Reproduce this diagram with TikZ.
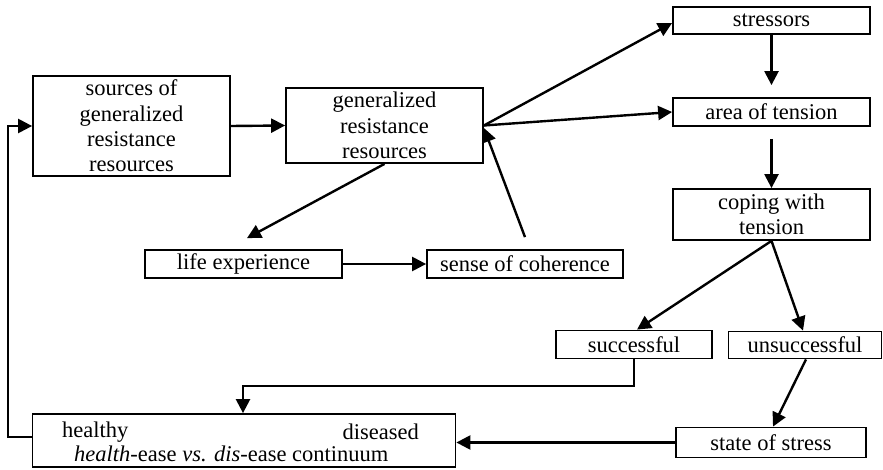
\documentclass[tikz,border=0pt]{standalone}
\usepackage{fontspec}
\setmainfont{Liberation Serif}
\usetikzlibrary{arrows.meta}
\begin{document}
\begin{tikzpicture}[x=1pt,y=-1pt,
  box/.style={draw, line width=1.8pt, inner sep=0pt, align=center,
              font=\fontsize{22.5}{25.3}\selectfont},
  lbl/.style={inner sep=0pt, font=\fontsize{22.5}{25.3}\selectfont},
  arr/.style={line width=2.4pt, -{Triangle[length=14pt,width=14pt]}}]
\useasboundingbox (0,0) rectangle (883,470);

% boxes
\node[box, minimum width=197pt, minimum height=100pt] (src) at (131.5,126)
  {sources of\\generalized\\resistance\\resources};
\node[box, minimum width=197pt, minimum height=75pt] (grr) at (384.5,125.5)
  {generalized\\resistance\\resources};
\node[box, minimum width=197pt, minimum height=27pt] (str) at (771.5,20.5) {stressors};
\node[box, minimum width=197pt, minimum height=28pt] (area) at (771.5,112) {area of tension};
\node[box, minimum width=197pt, minimum height=51pt] (cop) at (771.5,214.5) {coping with\\tension};
\node[box, minimum width=197pt, minimum height=28pt] (life) at (243.5,264) {life experience};
\node[box, minimum width=196pt, minimum height=28pt] (coh) at (525,264) {sense of coherence};
\node[box, minimum width=156pt, minimum height=28pt] (suc) at (634,344.5) {successful};
\node[box, minimum width=153pt, minimum height=27pt] (uns) at (805,345) {unsuccessful};
\node[box, minimum width=190pt, minimum height=30pt] (sts) at (771,442.5) {state of stress};
\node[box, minimum width=423pt, minimum height=53pt] (hea) at (244,440.5) {};
\node[lbl, anchor=west] (hl) at (62,432) {healthy};
\node[lbl, anchor=east] (dl) at (419,432) {diseased};
\node[lbl, anchor=west] (cl) at (74,454) {\textit{health}-ease \textit{vs. dis}-ease continuum};

% connectors
\draw[arr] (src.east) -- (grr.west);
\draw[arr] (grr.east) -- ([yshift=-2.5pt]str.west);
\draw[arr] (grr.east) -- (area.west);
\draw[arr] (str.south) -- ([yshift=12pt]area.north);
\draw[arr] ([yshift=-12pt]area.south) -- (cop.north);
\draw[arr] (grr.south) -- ([xshift=3.5pt,yshift=11pt]life.north);
\draw[arr] (life.east) -- (coh.west);
\draw[arr] ([yshift=12pt]coh.north) -- ([yshift=-2.5pt]grr.east);
\draw[arr] (cop.south) -- ([xshift=3pt]suc.north);
\draw[arr] (cop.south) -- ([xshift=-2pt]uns.north);
\draw[arr] ([xshift=1pt]uns.south) -- ([xshift=2pt]sts.north);
\draw[arr] (sts.west) -- (sts.west -| hea.east);
\coordinate (bend) at (243,386);
\draw[arr] (suc.south) |- (bend) -- (bend |- hea.north);
\coordinate (lft) at (8,437);
\draw[arr] (hea.west |- lft) -- (lft) |- (src.west);
\end{tikzpicture}
\end{document}
